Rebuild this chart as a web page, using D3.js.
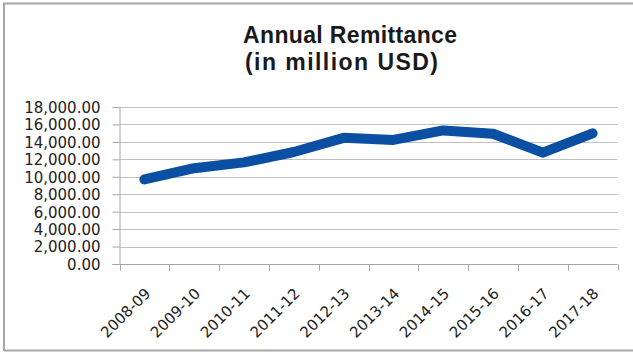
<!DOCTYPE html>
<html>
<head>
<meta charset="utf-8">
<script src="https://cdn.jsdelivr.net/npm/d3@7"></script>
<style>
  html, body { margin: 0; padding: 0; background: #fff; }
  svg { display: block; }
</style>
</head>
<body>
<svg id="chart" width="633" height="352"></svg>
<script>
// Annual remittance inflow, million USD, by fiscal year
const years = ["2008-09", "2009-10", "2010-11", "2011-12", "2012-13",
               "2013-14", "2014-15", "2015-16", "2016-17", "2017-18"];
const remittance = [9689, 10987, 11650, 12843, 14461,
                    14228, 15317, 14931, 12769, 14982];
const yTicks = [0, 2000, 4000, 6000, 8000, 10000, 12000, 14000, 16000, 18000];
const titleLines = ["Annual Remittance", "(in million USD)"];

const svg = d3.select("#chart");
const font = "'DejaVu Sans', 'Liberation Sans', sans-serif";

// outer chart frame
svg.append("path")
  .attr("d", "M4,351 L4,3.5 L633,3.5")
  .attr("fill", "none")
  .attr("stroke", "#a6a6a6")
  .attr("stroke-width", 2);
svg.append("line")
  .attr("x1", 4).attr("x2", 633).attr("y1", 350.5).attr("y2", 350.5)
  .attr("stroke", "#a6a6a6").attr("stroke-width", 2);

const plot = { left: 119.5, right: 617.5, top: 107, bottom: 264 };

const x = d3.scaleBand().domain(years).range([plot.left, plot.right]).padding(0);
const y = d3.scaleLinear().domain([0, 18000]).range([plot.bottom, plot.top]);

// horizontal gridlines
svg.append("g")
  .selectAll("line")
  .data(yTicks.filter(d => d > 0))
  .join("line")
  .attr("x1", plot.left).attr("x2", plot.right)
  .attr("y1", d => Math.round(y(d)) + 0.5).attr("y2", d => Math.round(y(d)) + 0.5)
  .attr("stroke", "#c0c0c0").attr("stroke-width", 1);

// y axis
const yAxis = svg.append("g")
  .attr("transform", `translate(${plot.left},0)`)
  .call(d3.axisLeft(y).tickValues(yTicks).tickSize(7).tickPadding(12)
    .tickFormat(d => d3.format(",.2f")(d)));
yAxis.select(".domain").attr("stroke", "#a6a6a6").attr("d", `M0.5,${plot.top}V${plot.bottom + 0.5}`);
yAxis.selectAll(".tick line").attr("stroke", "#a6a6a6");
yAxis.selectAll(".tick text")
  .attr("font-family", font).attr("font-size", 15).attr("fill", "#222")
  .attr("dy", "0.36em");

// x axis: ticks on category boundaries
const xg = svg.append("g").attr("transform", `translate(0,${plot.bottom + 0.5})`);
xg.append("line")
  .attr("x1", plot.left - 7).attr("x2", plot.right)
  .attr("stroke", "#a6a6a6");
const bounds = years.map(d => x(d)).concat([x(years[years.length - 1]) + x.bandwidth()]);
xg.selectAll("line.tk")
  .data(bounds)
  .join("line").attr("class", "tk")
  .attr("x1", d => Math.round(d) + 0.5).attr("x2", d => Math.round(d) + 0.5)
  .attr("y1", 0).attr("y2", 6)
  .attr("stroke", "#a6a6a6");
xg.selectAll("text")
  .data(years)
  .join("text")
  .attr("transform", d => `translate(${x(d) + x.bandwidth() / 2 + 7},${30}) rotate(-45)`)
  .attr("text-anchor", "end")
  .attr("font-family", font).attr("font-size", 15).attr("fill", "#222")
  .text(d => d);

// remittance line
const line = d3.line()
  .x((d, i) => x(years[i]) + x.bandwidth() / 2)
  .y(d => y(d));
svg.append("path")
  .datum(remittance)
  .attr("d", line)
  .attr("fill", "none")
  .attr("stroke", "#0a4fa1")
  .attr("stroke-width", 10)
  .attr("stroke-linejoin", "round")
  .attr("stroke-linecap", "round");

// two-line title
const titleX = [243, 245];
const titleW = [214, 193];
svg.append("g")
  .selectAll("text")
  .data(titleLines)
  .join("text")
  .attr("x", (d, i) => titleX[i])
  .attr("y", (d, i) => 43 + i * 27)
  .attr("textLength", (d, i) => titleW[i])
  .attr("lengthAdjust", "spacing")
  .attr("font-family", "'Liberation Sans', Arial, sans-serif")
  .attr("font-weight", "bold")
  .attr("font-size", 23)
  .attr("fill", "#1a1a1a")
  .text(d => d);
</script>
</body>
</html>
